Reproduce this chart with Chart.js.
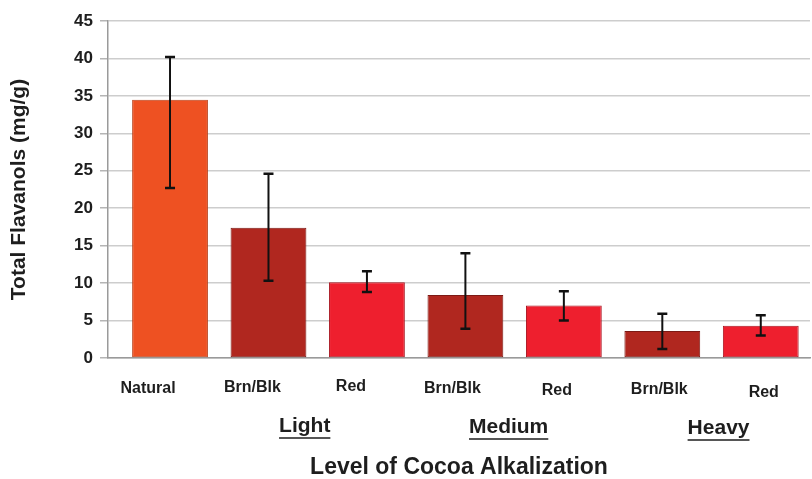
<!DOCTYPE html>
<html>
<head>
<meta charset="utf-8">
<script src="https://cdn.jsdelivr.net/npm/chart.js@4.4.0/dist/chart.umd.min.js"></script>
<style>
  html, body { margin: 0; padding: 0; background: #fff; }
  #wrap { width: 812px; height: 479px; }
</style>
</head>
<body>
<div id="wrap"><canvas id="cocoaChart" width="812" height="479"></canvas></div>
<script>
// data
const categories = ["Natural", "Brn/Blk", "Red", "Brn/Blk", "Red", "Brn/Blk", "Red"];
const flavanols = [34.5, 17.4, 10.1, 8.4, 7.0, 3.6, 4.3];
const errHigh = [40.2, 24.6, 11.6, 14.0, 8.9, 5.9, 5.7];
const errLow = [22.7, 10.3, 8.8, 3.9, 5.0, 1.2, 3.0];
const kinds = ["natural", "brn", "red", "brn", "red", "brn", "red"];
const groups = ["Light", "Medium", "Heavy"];
const groupSpans = [[1, 2], [3, 4], [5, 6]];
const yTicks = [0, 5, 10, 15, 20, 25, 30, 35, 40, 45];

// style bits
const fillColors = { natural: "#ee5122", brn: "#b0271f", red: "#ee1f2e" };
const edgeColors = { natural: "#b8411a", brn: "#7c1a15", red: "#a8141f" };
// hand-placed labels in the original sit a little off the bar centres
const labelNudgeX = [-22, -16, -16, -13, -7, -3, 3];
const labelNudgeY = [0, -1, -2, 0, 2, 1, 4];
const groupNudgeX = [-13, -6, 7];

const FONT = "'Liberation Sans', Arial, sans-serif";
const TEXT = "#1e1e1e";

// error bars
const errorBars = {
  id: "errorBars",
  afterDatasetsDraw(chart) {
    const ctx = chart.ctx;
    const y = chart.scales.y;
    const meta = chart.getDatasetMeta(0);
    ctx.save();
    ctx.strokeStyle = "#111";
    meta.data.forEach((bar, i) => {
      const top = y.getPixelForValue(errHigh[i]);
      const bot = y.getPixelForValue(errLow[i]);
      ctx.lineWidth = 2;
      ctx.beginPath();
      ctx.moveTo(bar.x, top);
      ctx.lineTo(bar.x, bot);
      ctx.stroke();
      ctx.lineWidth = 2.5;
      ctx.beginPath();
      ctx.moveTo(bar.x - 5, top);
      ctx.lineTo(bar.x + 5, top);
      ctx.moveTo(bar.x - 5, bot);
      ctx.lineTo(bar.x + 5, bot);
      ctx.stroke();
    });
    ctx.restore();
  }
};

// category + group labels under the axis
const groupLabels = {
  id: "groupLabels",
  afterDraw(chart) {
    const ctx = chart.ctx;
    const x = chart.scales.x;
    const base = chart.chartArea.bottom;
    ctx.save();
    ctx.fillStyle = TEXT;
    ctx.textAlign = "center";
    ctx.textBaseline = "middle";
    ctx.font = "bold 16px " + FONT;
    categories.forEach((c, i) => {
      ctx.fillText(c, x.getPixelForValue(i) + labelNudgeX[i], base + 31 + labelNudgeY[i]);
    });
    ctx.font = "bold 21px " + FONT;
    ctx.strokeStyle = TEXT;
    ctx.lineWidth = 1.5;
    groups.forEach((g, k) => {
      const [a, b] = groupSpans[k];
      const cx = (x.getPixelForValue(a) + x.getPixelForValue(b)) / 2 + groupNudgeX[k];
      const cy = base + 68 + k;
      ctx.fillText(g, cx, cy);
      const w = ctx.measureText(g).width;
      ctx.beginPath();
      ctx.moveTo(cx - w / 2, cy + 12);
      ctx.lineTo(cx + w / 2, cy + 12);
      ctx.stroke();
    });
    ctx.restore();
  }
};

const ctx = document.getElementById("cocoaChart").getContext("2d");

new Chart(ctx, {
  type: "bar",
  data: {
    datasets: [
      {
        data: flavanols.map((v, i) => ({ x: i, y: v })),
        backgroundColor: kinds.map(k => fillColors[k]),
        borderColor: kinds.map(k => edgeColors[k]),
        borderWidth: 1,
        borderSkipped: false,
        categoryPercentage: 1,
        barPercentage: 0.77
      }
    ]
  },
  options: {
    responsive: false,
    animation: false,
    devicePixelRatio: 1,
    layout: { padding: { top: 21, right: 2, bottom: 0, left: 0 } },
    plugins: {
      legend: { display: false },
      tooltip: { enabled: false }
    },
    scales: {
      x: {
        type: "linear",
        min: -0.63,
        max: 6.5,
        offset: false,
        afterBuildTicks: s => { s.ticks = categories.map((c, i) => ({ value: i })); },
        ticks: { display: false },
        grid: { display: false, offset: false },
        border: { display: true, color: "#9a9a9a", width: 1.5 },
        title: {
          display: true,
          text: "Level of Cocoa Alkalization",
          color: TEXT,
          font: { family: FONT, size: 23, weight: "bold", lineHeight: 1 },
          padding: { top: 0, bottom: 0 }
        },
        afterFit: s => { s.height = 121; }
      },
      y: {
        min: 0,
        max: 45,
        afterBuildTicks: s => { s.ticks = yTicks.map(v => ({ value: v })); },
        ticks: {
          color: TEXT,
          padding: 7,
          font: { family: FONT, size: 17, weight: "bold" }
        },
        grid: {
          color: "#cdcdcd",
          lineWidth: 1.5,
          tickLength: 8,
          tickColor: "#b5b5b5"
        },
        border: { display: true, color: "#9a9a9a", width: 1.5 },
        title: {
          display: true,
          text: "Total Flavanols (mg/g)",
          color: TEXT,
          font: { family: FONT, size: 21, weight: "bold" },
          padding: { top: 7, bottom: 0 }
        },
        afterFit: s => { s.width = 108; }
      }
    }
  },
  plugins: [errorBars, groupLabels]
});
</script>
</body>
</html>
